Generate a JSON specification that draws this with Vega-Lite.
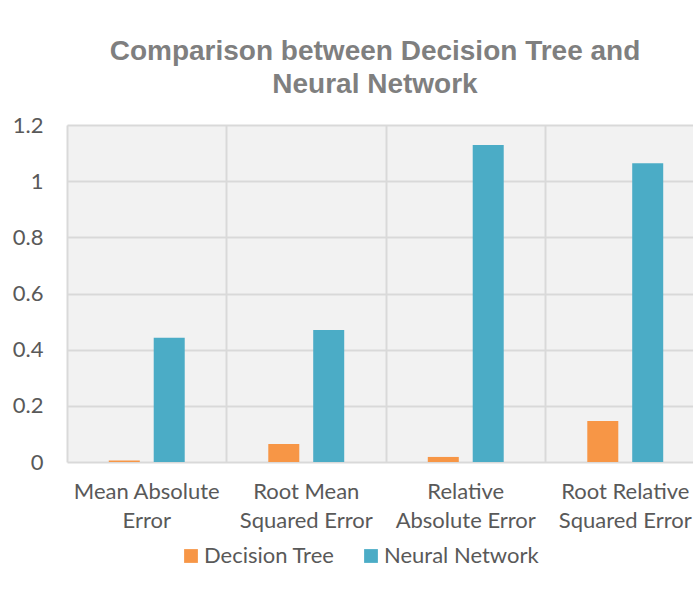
{
  "$schema": "https://vega.github.io/schema/vega-lite/v6.json",
  "width": 638,
  "height": 337,
  "autosize": {"type": "none"},
  "padding": {"left": 67, "top": 125, "right": 0, "bottom": 129},
  "background": "white",
  "title": {
    "text": ["Comparison between Decision Tree and", "Neural Network"],
    "font": "Liberation Sans",
    "fontSize": 28,
    "fontWeight": "bold",
    "color": "#7f7f7f",
    "lineHeight": 33,
    "anchor": "middle",
    "dx": -11,
    "offset": 15
  },
  "data": {
    "values": [
      {"metric": "Mean Absolute Error", "model": "Decision Tree", "value": 0.005},
      {"metric": "Mean Absolute Error", "model": "Neural Network", "value": 0.442},
      {"metric": "Root Mean Squared Error", "model": "Decision Tree", "value": 0.064},
      {"metric": "Root Mean Squared Error", "model": "Neural Network", "value": 0.47},
      {"metric": "Relative Absolute Error", "model": "Decision Tree", "value": 0.018},
      {"metric": "Relative Absolute Error", "model": "Neural Network", "value": 1.129},
      {"metric": "Root Relative Squared Error", "model": "Decision Tree", "value": 0.146},
      {"metric": "Root Relative Squared Error", "model": "Neural Network", "value": 1.064}
    ]
  },
  "mark": {"type": "bar"},
  "encoding": {
    "x": {
      "field": "metric",
      "type": "nominal",
      "sort": null,
      "scale": {"paddingInner": 0, "paddingOuter": 0},
      "axis": {
        "title": null,
        "bandPosition": 0,
        "grid": true,
        "gridColor": "#d9d9d9",
        "gridWidth": 2,
        "domain": false,
        "ticks": false,
        "labelAngle": 0,
        "labelAlign": "center",
        "labelFont": "Lato",
        "labelFontSize": 22,
        "labelColor": "#595959",
        "labelPadding": 19,
        "labelBaseline": "top",
        "labelLineHeight": 29,
        "labelLimit": 300,
        "labelExpr": "datum.label == 'Mean Absolute Error' ? ['Mean Absolute', 'Error'] : datum.label == 'Root Mean Squared Error' ? ['Root Mean', 'Squared Error'] : datum.label == 'Relative Absolute Error' ? ['Relative', 'Absolute Error'] : ['Root Relative', 'Squared Error']"
      }
    },
    "xOffset": {
      "field": "model",
      "type": "nominal",
      "scale": {"paddingInner": 0.31, "paddingOuter": 0.93}
    },
    "y": {
      "field": "value",
      "type": "quantitative",
      "scale": {"domain": [0, 1.2], "nice": false},
      "axis": {
        "title": null,
        "values": [0, 0.2, 0.4, 0.6, 0.8, 1, 1.2],
        "format": ".1~f",
        "grid": true,
        "gridColor": "#d9d9d9",
        "gridWidth": 2,
        "domain": false,
        "ticks": false,
        "labelFont": "Lato",
        "labelFontSize": 22,
        "labelColor": "#595959",
        "labelPadding": 24
      }
    },
    "color": {
      "field": "model",
      "type": "nominal",
      "scale": {"domain": ["Decision Tree", "Neural Network"], "range": ["#f79646", "#4bacc6"]},
      "legend": {
        "title": null,
        "orient": "none",
        "direction": "horizontal",
        "legendX": 113,
        "legendY": 420,
        "symbolType": "square",
        "symbolSize": 190,
        "symbolStrokeWidth": 0,
        "labelFont": "Lato",
        "labelFontSize": 22,
        "labelColor": "#595959",
        "labelOffset": 2,
        "columnPadding": 25
      }
    }
  },
  "config": {
    "view": {"stroke": null, "fill": "#f2f2f2"}
  }
}
